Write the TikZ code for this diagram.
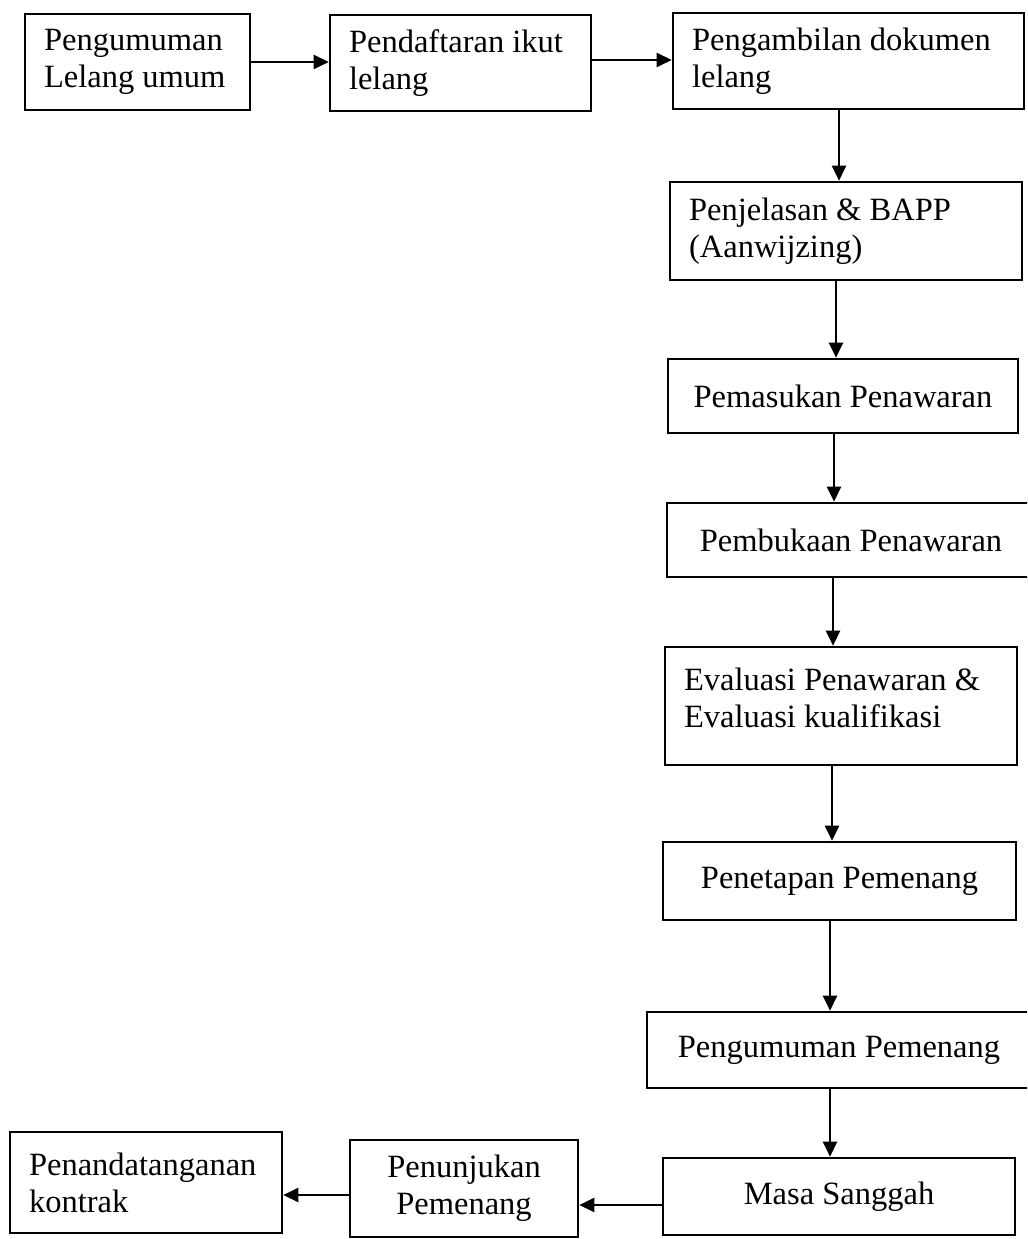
\documentclass[tikz,border=0pt]{standalone}
\usepackage{fontspec}
\setmainfont{Liberation Serif}
\usetikzlibrary{arrows.meta}

\begin{document}
\begin{tikzpicture}[
		x=0.02cm, y=-0.02cm,
		every node/.style={rectangle, draw, line width=1.5pt, inner sep=0pt, font=\fontsize{18.5}{21}\selectfont},
		leftbox/.style={align=flush left, inner xsep=0.38cm},
		midbox/.style={align=flush center},
		flow/.style={line width=1.3pt, -{Triangle[length=0.3cm, width=0.28cm]}}
	]
  \useasboundingbox (0, 0) rectangle (1027, 1239);
  \clip (0, 0) rectangle (1027, 1239);
  % top row
  \node (lelang_umum) [leftbox, text width=3.74cm, minimum height=1.92cm] at (137.5, 62) {Pengumuman\\Lelang umum};
  \node (pendaftaran) [leftbox, text width=4.46cm, minimum height=1.92cm] at (460.5, 63) {Pendaftaran ikut\\lelang};
  \node (pengambilan) [leftbox, text width=6.26cm, minimum height=1.92cm] at (848.5, 61) {Pengambilan dokumen\\lelang};
  % right column
  \node (penjelasan) [leftbox, text width=6.28cm, minimum height=1.96cm] at (846, 231) {Penjelasan \& BAPP\\(Aanwijzing)};
  \node (pemasukan) [midbox, minimum width=7cm, minimum height=1.48cm] at (843, 396) {Pemasukan Penawaran};
  \node (pembukaan) [midbox, minimum width=7.36cm, minimum height=1.48cm] at (851, 540) {Pembukaan Penawaran};
  \node (evaluasi) [leftbox, text width=6.28cm, minimum height=2.36cm] at (841, 706) {Evaluasi Penawaran \&\\Evaluasi kualifikasi\\[-0.4cm]\mbox{}};
  \node (penetapan) [midbox, minimum width=7.06cm, minimum height=1.56cm] at (839.5, 881) {Penetapan Pemenang};
  \node (pengumuman_pemenang) [midbox, minimum width=7.68cm, minimum height=1.52cm] at (839, 1050) {Pengumuman Pemenang};
  \node (sanggah) [midbox, minimum width=7.04cm, minimum height=1.54cm] at (839, 1196.5) {Masa Sanggah};
  % bottom row
  \node (penunjukan) [midbox, minimum width=4.56cm, minimum height=1.94cm] at (464, 1188.5) {Penunjukan\\Pemenang};
  \node (kontrak) [leftbox, text width=4.68cm, minimum height=2.02cm] at (146, 1182.5) {Penandatanganan\\kontrak};
  \draw [flow] (lelang_umum.east) -- (lelang_umum.east -| pendaftaran.west);
  \draw [flow] ([yshift=0.06cm]pendaftaran.east) -- ([yshift=0.06cm]pendaftaran.east -| pengambilan.west);
  \draw [flow] ([xshift=-0.19cm]pengambilan.south) -- ([xshift=-0.19cm]pengambilan.south |- penjelasan.north);
  \draw [flow] ([xshift=-0.2cm]penjelasan.south) -- ([xshift=-0.2cm]penjelasan.south |- pemasukan.north);
  \draw [flow] ([xshift=-0.18cm]pemasukan.south) -- ([xshift=-0.18cm]pemasukan.south |- pembukaan.north);
  \draw [flow] ([xshift=-0.36cm]pembukaan.south) -- ([xshift=-0.36cm]pembukaan.south |- evaluasi.north);
  \draw [flow] ([xshift=-0.18cm]evaluasi.south) -- ([xshift=-0.18cm]evaluasi.south |- penetapan.north);
  \draw [flow] ([xshift=-0.19cm]penetapan.south) -- ([xshift=-0.19cm]penetapan.south |- pengumuman_pemenang.north);
  \draw [flow] ([xshift=-0.18cm]pengumuman_pemenang.south) -- ([xshift=-0.18cm]pengumuman_pemenang.south |- sanggah.north);
  \draw [flow] ([yshift=-0.17cm]sanggah.west) -- ([yshift=-0.17cm]sanggah.west -| penunjukan.east);
  \draw [flow] ([yshift=-0.13cm]penunjukan.west) -- ([yshift=-0.13cm]penunjukan.west -| kontrak.east);
\end{tikzpicture}
\end{document}
